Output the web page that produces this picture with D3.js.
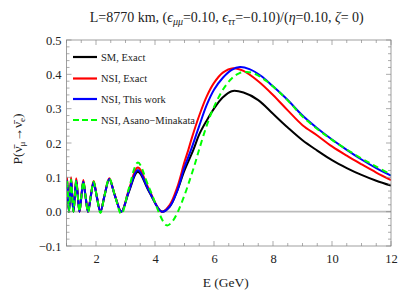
<!DOCTYPE html>
<html><head><meta charset="utf-8">
<script src="https://cdn.jsdelivr.net/npm/d3@7"></script>
<style>body{margin:0;background:#fff}svg{display:block}text{font-family:"Liberation Serif","DejaVu Serif",serif}</style>
</head><body>
<script>
// Energy grid (GeV) for the oscillation region, shared by series
const E_osc = [1.00,1.02,1.051,1.083,1.118,1.155,1.194,1.236,1.283,1.33,1.383,1.44,1.504,1.57,1.647,1.73,1.82,1.92,2.028,2.15,2.29,2.45,2.64,2.86,3.115,3.42,3.80];
const sm_osc  = [0.066,0.09,0.045,0,0.045,0.092,0.046,0,0.045,0.09,0.045,0,0.044,0.087,0.043,0,0.043,0.086,0.043,0,0.047,0.094,0.047,0,0.058,0.116,0.058];
const red_osc = [0.072,0.099,0.05,0,0.05,0.1,0.05,0,0.049,0.097,0.048,0,0.046,0.092,0.045,0,0.045,0.089,0.045,0,0.048,0.097,0.048,0,0.064,0.129,0.064];
const blu_osc = [0.066,0.091,0.045,0,0.045,0.092,0.046,0,0.045,0.09,0.045,0,0.044,0.087,0.043,0,0.043,0.086,0.043,0,0.047,0.095,0.047,0,0.06,0.121,0.06];
const grn_osc = [0.066,0.092,0.046,0,0.046,0.093,0.046,0,0.045,0.091,0.045,0,0.044,0.088,0.044,-0.002,0.043,0.087,0.044,-0.004,0.047,0.097,0.047,-0.007,0.068,0.143,0.07];

// High-energy part (after the last oscillation minimum)
const E_sm  = [4.23,4.5,4.75,5.0,5.3,5.5,5.75,6.0,6.3,6.6,7.0,7.5,8.0,8.5,9.0,9.5,10.0,10.5,11.0,11.5,12.0];
const sm_hi = [0,0.015,0.06,0.12,0.18,0.225,0.265,0.30,0.333,0.351,0.347,0.325,0.285,0.245,0.208,0.178,0.15,0.127,0.107,0.09,0.076];
const E_red  = [4.23,4.5,4.75,5.0,5.13,5.25,5.5,5.75,6.0,6.3,6.65,7.0,7.5,8.0,8.5,9.0,9.5,10.0,10.5,11.0,11.5,12.0];
const red_hi = [0,0.02,0.07,0.145,0.18,0.215,0.28,0.335,0.375,0.405,0.418,0.41,0.38,0.34,0.295,0.252,0.222,0.19,0.163,0.138,0.114,0.092];
const E_blu  = [4.23,4.5,4.75,5.0,5.22,5.5,5.75,6.0,6.3,6.6,6.88,7.2,7.6,8.0,8.5,9.0,9.5,10.0,10.5,11.0,11.5,12.0];
const blu_hi = [0,0.015,0.06,0.13,0.18,0.25,0.31,0.355,0.39,0.413,0.421,0.415,0.395,0.365,0.325,0.28,0.243,0.21,0.18,0.152,0.127,0.105];
const E_grn  = [4.4,4.6,4.75,5.0,5.2,5.36,5.5,5.75,6.0,6.3,6.6,6.85,7.1,7.4,7.8,8.2,8.6,9.0,9.5,10.0,10.5,11.0,11.5,12.0];
const grn_hi = [-0.04,-0.027,-0.005,0.048,0.098,0.141,0.182,0.25,0.305,0.355,0.388,0.403,0.407,0.401,0.379,0.349,0.315,0.277,0.241,0.209,0.181,0.155,0.131,0.108];

const xTicks = [2,4,6,8,10,12];
const yTicks = [-0.1,0.0,0.1,0.2,0.3,0.4,0.5];
const legendLabels = ["SM, Exact","NSI, Exact","NSI, This work","NSI, Asano\u2212Minakata"];
const colors = ["#000000","#ff0000","#0000ff","#00ff00"];

function join(Ea, va, Eb, vb){ return Ea.map((e,i)=>[e,va[i]]).concat(Eb.map((e,i)=>[e,vb[i]])); }
const series = [
  join(E_osc, sm_osc, E_sm, sm_hi),
  join(E_osc, red_osc, E_red, red_hi),
  join(E_osc, blu_osc, E_blu, blu_hi),
  join(E_osc, grn_osc, E_grn, grn_hi)
];

const W=408,H=300, L=66.5,R=391,T=40,B=246;
const svg=d3.select("body").append("svg").attr("width",W).attr("height",H);
const x=d3.scaleLinear().domain([1,12]).range([L,R]);
const y=d3.scaleLinear().domain([-0.1,0.5]).range([B,T]);

const defs=svg.append("defs");
defs.append("clipPath").attr("id","clip").append("rect").attr("x",L).attr("y",T).attr("width",R-L).attr("height",B-T);

// zero line
svg.append("line").attr("x1",L).attr("x2",R).attr("y1",y(0)).attr("y2",y(0)).attr("stroke","#bbbbbb").attr("stroke-width",1.6);

const line=d3.line().x(d=>x(d[0])).y(d=>y(d[1])).curve(d3.curveCatmullRom.alpha(0.5));
const g=svg.append("g").attr("clip-path","url(#clip)");
series.forEach((s,i)=>{
  g.append("path").attr("d",line(s)).attr("fill","none").attr("stroke",colors[i]).attr("stroke-width",2)
   .attr("stroke-dasharray", i===3?"6,4":null);
});

// frame
svg.append("rect").attr("x",L).attr("y",T).attr("width",R-L).attr("height",B-T).attr("fill","none").attr("stroke","#888").attr("stroke-width",0.8);

const tc="#888";
const xMinor=d3.range(1,12.01,0.5);
xMinor.forEach(v=>{
  const major = xTicks.includes(v);
  const len = major?5:3;
  svg.append("line").attr("x1",x(v)).attr("x2",x(v)).attr("y1",B).attr("y2",B-len).attr("stroke",tc).attr("stroke-width",0.7);
  svg.append("line").attr("x1",x(v)).attr("x2",x(v)).attr("y1",T).attr("y2",T+len).attr("stroke",tc).attr("stroke-width",0.7);
});
const yMinor=d3.range(-0.1,0.5001,0.02);
yMinor.forEach(v=>{
  const major = yTicks.some(t=>Math.abs(t-v)<1e-6);
  const len = major?5:3;
  svg.append("line").attr("x1",L).attr("x2",L+len).attr("y1",y(v)).attr("y2",y(v)).attr("stroke",tc).attr("stroke-width",0.7);
  svg.append("line").attr("x1",R).attr("x2",R-len).attr("y1",y(v)).attr("y2",y(v)).attr("stroke",tc).attr("stroke-width",0.7);
});

const xAxis=d3.axisBottom(x).tickValues(xTicks).tickSize(0).tickPadding(8).tickFormat(d3.format("d"));
const gx=svg.append("g").attr("transform",`translate(0,${B})`).call(xAxis);
gx.select(".domain").remove();
gx.selectAll("text").attr("font-size",12.5).attr("fill","#222").attr("font-family","Liberation Serif");
const yAxis=d3.axisLeft(y).tickValues(yTicks).tickSize(0).tickPadding(5).tickFormat(d=>d3.format(".1f")(d).replace("-","\u2212"));
const gy=svg.append("g").attr("transform",`translate(${L},0)`).call(yAxis);
gy.select(".domain").remove();
gy.selectAll("text").attr("font-size",12.5).attr("fill","#222").attr("font-family","Liberation Serif");

svg.append("text").attr("x",(L+R)/2-3).attr("y",287).attr("text-anchor","middle").attr("font-size",13.5).attr("fill","#222").text("E (GeV)");

const yl=svg.append("text").attr("transform",`translate(22,${(T+B)/2-4}) rotate(-90)`).attr("text-anchor","middle").attr("font-size",13.5).attr("fill","#222");
yl.append("tspan").text("P(");
yl.append("tspan").text("\u03BD\u0304");
yl.append("tspan").attr("font-size",9).attr("dy",3).text("\u03BC");
yl.append("tspan").attr("dy",-3).text("\u2192");
yl.append("tspan").text("\u03BD\u0304");
yl.append("tspan").attr("font-size",9).attr("dy",3).text("e");
yl.append("tspan").attr("dy",-3).text(")");

const tt=svg.append("text").attr("x",(L+R)/2-2).attr("y",22).attr("text-anchor","middle").attr("font-size",14).attr("fill","#222");
tt.append("tspan").text("L=8770 km, (");
tt.append("tspan").attr("font-style","italic").text("\u03F5");
tt.append("tspan").attr("font-size",10).attr("font-style","italic").attr("dy",3).text("\u03BC\u03BC");
tt.append("tspan").attr("dy",-3).text("=0.10, ");
tt.append("tspan").attr("font-style","italic").text("\u03F5");
tt.append("tspan").attr("font-size",10).attr("font-style","italic").attr("dy",3).text("\u03C4\u03C4");
tt.append("tspan").attr("dy",-3).text("=\u22120.10)/(");
tt.append("tspan").attr("font-style","italic").text("\u03B7");
tt.append("tspan").text("=0.10, ");
tt.append("tspan").attr("font-style","italic").text("\u03B6");
tt.append("tspan").text("= 0)");

const ly=[57,78.5,99,120];
legendLabels.forEach((lab,i)=>{
  svg.append("line").attr("x1",73).attr("x2",97).attr("y1",ly[i]).attr("y2",ly[i]).attr("stroke",colors[i]).attr("stroke-width",2.2)
    .attr("stroke-dasharray",i===3?"6,3":null);
  svg.append("text").attr("x",101).attr("y",ly[i]+3.5).attr("font-size",10.5).attr("fill","#222").text(lab);
});
</script>
</body></html>
